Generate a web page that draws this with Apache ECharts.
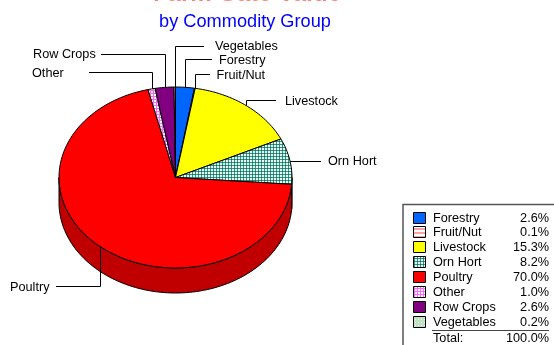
<!DOCTYPE html>
<html><head><meta charset="utf-8">
<style>html,body{margin:0;padding:0;background:#fff}#c{width:554px;height:345px}</style>
<script src="https://cdn.jsdelivr.net/npm/echarts@6/dist/echarts.min.js"></script>
</head><body><div id="c"></div>
<script>
const categories = ['Forestry','Fruit/Nut','Livestock','Orn Hort','Poultry','Other','Row Crops','Vegetables'];
const shares = [2.6,0.1,15.3,8.2,70.0,1.0,2.6,0.2];
const shareLabels = ['2.6%','0.1%','15.3%','8.2%','70.0%','1.0%','2.6%','0.2%'];
const totalLabel = ['Total:','100.0%'];
const titleLines = ['Farm Gate Value','by Commodity Group'];

const FONT = '"Liberation Sans", Arial, sans-serif';
const TXT = '12.7px ' + FONT;
const CX = 175.5, CY = 177.5, RX = 116.5, RY = 90.5, DEPTH = 25;

function pattern(size, draw){
  const c = document.createElement('canvas');
  c.width = c.height = size;
  const g = c.getContext('2d');
  g.fillStyle = '#fff'; g.fillRect(0,0,size,size);
  draw(g);
  return {image:c, repeat:'repeat'};
}
const fills = [
  '#0066ff',
  pattern(4,g=>{g.fillStyle='#ffa0a0';g.fillRect(0,0,4,2);}),
  '#ffff00',
  pattern(3,g=>{g.fillStyle='#eef7f4';g.fillRect(0,0,3,3);g.fillStyle='#2f9a82';g.fillRect(0,0,3,1);g.fillRect(0,0,1,3);g.fillStyle='#0a7060';g.fillRect(0,0,1,1);}),
  '#ff0000',
  pattern(3,g=>{g.fillStyle='#ff66ff';g.fillRect(0,0,3,1);g.fillRect(0,0,1,3);}),
  '#800080',
  pattern(3,g=>{g.fillStyle='#bfe3bf';g.fillRect(0,0,3,3);g.fillStyle='#f4fbf4';g.fillRect(1,1,1,1);})
];
const sideColors = ['#0050c0','#c06060','#c0c000','#0a6a56','#c00000','#c030c0','#600060','#80a880'];

// leader-line layout: y of the horizontal run, x where the run ends, label position
const leaders = [
  {y:59.5, endX:212, lx:219, ly:60},
  {y:74.5, endX:210, lx:216.5, ly:75},
  {y:100.5, endX:276, lx:285, ly:101},
  {y:161.5, endX:321, lx:328, ly:161},
  {y:286.5, endX:56, lx:10, ly:287},
  {y:72.5, endX:89, lx:32, ly:73},
  {y:54.5, endX:101, lx:33, ly:54},
  {y:46.5, endX:204, lx:215, ly:46}
];

const total = shares.reduce((a,b)=>a+b,0);
const cum = []; shares.reduce((a,b,i)=>{cum[i]=[a,a+b];return a+b;},0);
const pt = (f,dy=0)=>{const t=f/total*2*Math.PI;return [CX+RX*Math.sin(t),CY-RY*Math.cos(t)+dy];};
function arc(a,b,dy=0){
  const n=Math.max(2,Math.ceil((b-a)*2)),out=[];
  for(let i=0;i<=n;i++) out.push(pt(a+(b-a)*i/n,dy));
  return out;
}
const seriesData = shares.map((v,i)=>({name:categories[i],value:v}));

const option = {
  animation:false,
  backgroundColor:'#fff',
  series:[
    {type:'custom',coordinateSystem:'none',silent:true,data:seriesData,z:1,clip:false,
     renderItem(p){
       const i=p.dataIndex;
       // only the front half (25%..75% of the circle) shows its wall
       const a=Math.max(cum[i][0],total*0.25), b=Math.min(cum[i][1],total*0.75);
       if(b<=a) return {type:'group',children:[]};
       const top=arc(a,b), bot=arc(a,b,DEPTH).reverse();
       return {type:'polygon',shape:{points:top.concat(bot)},style:{fill:sideColors[i],stroke:'#000',lineWidth:1}};
     }},
    {type:'custom',coordinateSystem:'none',silent:true,data:seriesData,z:2,clip:false,
     renderItem(p){
       const i=p.dataIndex;
       const pts=[[CX,CY]].concat(arc(cum[i][0],cum[i][1]));
       return {type:'polygon',shape:{points:pts},style:{fill:fills[i],stroke:'#000',lineWidth:1,lineJoin:'round'}};
     }},
    {type:'custom',coordinateSystem:'none',silent:true,data:seriesData,z:3,clip:false,
     renderItem(p){
       const i=p.dataIndex, L=leaders[i];
       const mid=(cum[i][0]+cum[i][1])/2, a=pt(mid);
       const x=Math.round(a[0])+0.5;
       const horizontal=Math.abs(L.y-a[1])<3;
       const pts=horizontal?[[a[0],L.y],[L.endX,L.y]]:[[x,a[1]],[x,L.y],[L.endX,L.y]];
       return {type:'group',children:[
         {type:'polyline',shape:{points:pts},style:{stroke:'#000',lineWidth:1,fill:'none'}},
         {type:'text',style:{text:categories[i],x:L.lx,y:L.ly,font:TXT,fill:'#000',textVerticalAlign:'middle'}}
       ]};
     }}
  ],
  graphic:{elements:[
    {type:'text',silent:true,style:{text:titleLines[0],x:247,y:6,font:'bold 24px '+FONT,fill:'#ff0000',textAlign:'center',textVerticalAlign:'bottom'}},
    {type:'rect',silent:true,shape:{x:140,y:0.5,width:220,height:10},style:{fill:'#fff'}},
    {type:'text',silent:true,style:{text:titleLines[1],x:245,y:22,font:'18.2px '+FONT,fill:'#0000ff',textAlign:'center',textVerticalAlign:'middle'}},
    {type:'polyline',silent:true,shape:{points:[[403,345],[403,204.5],[554,204.5]]},style:{stroke:'#555',lineWidth:1.5,fill:'none'}},
    {type:'line',silent:true,shape:{x1:432,y1:330.5,x2:549,y2:330.5},style:{stroke:'#444',lineWidth:1}},
    ...categories.flatMap((c,i)=>{
      const y=218+i*14.9;
      return [
        {type:'rect',silent:true,shape:{x:413.5,y:Math.round(y-6.5)+0.5,width:12,height:11},style:{fill:fills[i],stroke:'#000',lineWidth:1}},
        {type:'text',silent:true,style:{text:c,x:433,y:y,font:TXT,fill:'#000',textVerticalAlign:'middle'}},
        {type:'text',silent:true,style:{text:shareLabels[i],x:549,y:y,font:TXT,fill:'#000',textAlign:'right',textVerticalAlign:'middle'}}
      ];
    }),
    {type:'text',silent:true,style:{text:totalLabel[0],x:433,y:338,font:TXT,fill:'#000',textVerticalAlign:'middle'}},
    {type:'text',silent:true,style:{text:totalLabel[1],x:549,y:338,font:TXT,fill:'#000',textAlign:'right',textVerticalAlign:'middle'}}
  ]}
};
echarts.init(document.getElementById('c'),null,{renderer:'canvas'}).setOption(option);
</script></body></html>
